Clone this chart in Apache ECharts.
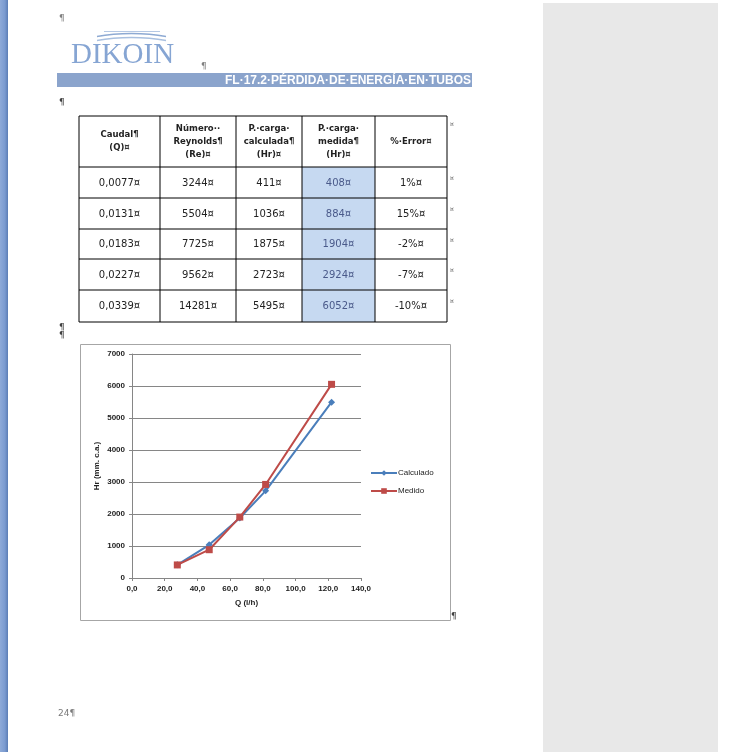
<!DOCTYPE html>
<html>
<head>
<meta charset="utf-8">
<script src="https://cdn.jsdelivr.net/npm/echarts@6/dist/echarts.min.js"></script>
<style>
  html, body { margin: 0; padding: 0; background: #ffffff; }
  #main { width: 735px; height: 752px; }
</style>
</head>
<body>
<div id="main"></div>
<script>
// Caudal en l/h (eje X) y pérdidas de carga en mm c.a.
var caudalLh = [27.7, 47.2, 65.9, 81.7, 122.0];
var hrCalculado = [411, 1036, 1875, 2723, 5495];
var hrMedido = [408, 884, 1904, 2924, 6052];

// Tabla de resultados
var tablaCaudal = ['0,0077', '0,0131', '0,0183', '0,0227', '0,0339'];
var tablaReynolds = ['3244', '5504', '7725', '9562', '14281'];
var tablaCalculada = ['411', '1036', '1875', '2723', '5495'];
var tablaMedida = ['408', '884', '1904', '2924', '6052'];
var tablaError = ['1%', '15%', '-2%', '-7%', '-10%'];
var tablaCabecera = [
  ['Caudal¶', '(Q)¤'],
  ['Número··', 'Reynolds¶', '(Re)¤'],
  ['P.·carga·', 'calculada¶', '(Hr)¤'],
  ['P.·carga·', 'medida¶', '(Hr)¤'],
  ['%·Error¤']
];

var chart = echarts.init(document.getElementById('main'), null, { renderer: 'canvas' });

// Page furniture: margin strip, side panel, header, pilcrows
var g = [];
g.push({ type: 'rect', shape: { x: 0, y: 0, width: 8, height: 752 },
  style: { fill: new echarts.graphic.LinearGradient(0, 0, 1, 0, [
    { offset: 0, color: '#8eaad8' }, { offset: 0.6, color: '#7b9bd0' }, { offset: 1, color: '#5b7db5' }]) } });
g.push({ type: 'rect', shape: { x: 543, y: 3, width: 175, height: 749 }, style: { fill: '#e8e8e8' } });

function pil(x, y, size, color) {
  g.push({ type: 'text', style: { text: '¶', x: x, y: y, font: (size || 9) + 'px "DejaVu Sans"', fill: color || '#808080', textVerticalAlign: 'middle' } });
}
pil(59, 19);
pil(201, 67);
pil(59, 103, 9, '#404040');
pil(59, 328, 9, '#404040');
pil(59, 336, 9, '#404040');
pil(451, 617, 9, '#404040');

// Logo
g.push({ type: 'line', shape: { x1: 104, y1: 31.5, x2: 160, y2: 31.5 }, style: { stroke: '#b5c8e4', lineWidth: 1 } });
[35, 39].forEach(function (yy, i) {
  g.push({ type: 'bezierCurve', shape: { x1: 97, y1: yy + 1.5, x2: 166, y2: yy + 1.5, cpx1: 118, cpy1: yy - 2.5, cpx2: 145, cpy2: yy - 2.5 },
    style: { stroke: i ? '#a9c0e0' : '#8eaad3', lineWidth: 1.3, fill: null } });
});
g.push({ type: 'text', style: { text: 'DIKOIN', x: 71, y: 55, font: '29px "Liberation Serif"', fill: '#86a5d3', textVerticalAlign: 'middle' } });

// Title banner
g.push({ type: 'rect', shape: { x: 57, y: 73, width: 415, height: 14 }, style: { fill: '#8ba4cc' } });
g.push({ type: 'text', style: { text: 'FL·17.2·PÉRDIDA·DE·ENERGÍA·EN·TUBOS', x: 471, y: 80.5, font: 'bold 12px "Liberation Sans"', fill: '#ffffff', textAlign: 'right', textVerticalAlign: 'middle' } });

// Table
var colX = [79, 160, 236, 302, 375, 447];
var rowY = [116, 167, 198, 229, 259, 290, 322];
for (var r = 0; r < 5; r++) {
  g.push({ type: 'rect', shape: { x: colX[3], y: rowY[r + 1], width: colX[4] - colX[3], height: rowY[r + 2] - rowY[r + 1] }, style: { fill: '#c6d9f1' } });
}
colX.forEach(function (x) {
  g.push({ type: 'line', shape: { x1: x, y1: rowY[0], x2: x, y2: rowY[6] }, style: { stroke: '#000', lineWidth: 1 } });
});
rowY.forEach(function (y) {
  g.push({ type: 'line', shape: { x1: colX[0], y1: y, x2: colX[5], y2: y }, style: { stroke: '#000', lineWidth: 1 } });
});
tablaCabecera.forEach(function (lines, c) {
  var cx = (colX[c] + colX[c + 1]) / 2;
  var h = 13;
  var y0 = (rowY[0] + rowY[1]) / 2 - (lines.length - 1) * h / 2;
  lines.forEach(function (t, i) {
    g.push({ type: 'text', style: { text: t, x: cx, y: y0 + i * h, font: 'bold 8.5px "DejaVu Sans"', fill: '#222', textAlign: 'center', textVerticalAlign: 'middle' } });
  });
});
var cols = [tablaCaudal, tablaReynolds, tablaCalculada, tablaMedida, tablaError];
cols.forEach(function (arr, c) {
  var cx = (colX[c] + colX[c + 1]) / 2;
  arr.forEach(function (t, r) {
    var cy = (rowY[r + 1] + rowY[r + 2]) / 2 + 0.5;
    g.push({ type: 'text', style: { text: t + '¤', x: cx, y: cy, font: '10px "DejaVu Sans"', fill: c === 3 ? '#4a5a8a' : '#222', textAlign: 'center', textVerticalAlign: 'middle' } });
  });
});
for (var k = 0; k < 6; k++) {
  g.push({ type: 'text', style: { text: '¤', x: 450, y: (k === 0 ? 121 : rowY[k] + 8), font: '6px "DejaVu Sans"', fill: '#555' } });
}

// Chart frame
g.push({ type: 'rect', shape: { x: 80.5, y: 344.5, width: 370, height: 276 }, style: { fill: 'none', stroke: '#a6a6a6', lineWidth: 1 }, z: -1 });
// Page number
g.push({ type: 'text', style: { text: '24¶', x: 58, y: 714, font: '9px "DejaVu Sans"', fill: '#7a7a7a', textVerticalAlign: 'middle' } });

chart.setOption({
  backgroundColor: '#ffffff',
  animation: false,
  graphic: { elements: g },
  grid: { left: 132, right: 374, top: 354, bottom: 174, containLabel: false },
  legend: {
    orient: 'vertical', left: 365, top: 464, itemGap: 10, itemWidth: 26, itemHeight: 7,
    textStyle: { fontFamily: 'Liberation Sans', fontSize: 8, color: '#222', padding: [0, 0, 0, -4] },
    data: ['Calculado', 'Medido']
  },
  xAxis: {
    type: 'value', min: 0, max: 140, interval: 20,
    name: 'Q (l/h)', nameLocation: 'middle', nameGap: 21,
    nameTextStyle: { fontFamily: 'Liberation Sans', fontSize: 8, fontWeight: 'bold', color: '#222' },
    axisLine: { show: true, lineStyle: { color: '#868686' } },
    axisTick: { show: true, length: 3, lineStyle: { color: '#868686' } },
    axisLabel: { fontFamily: 'Liberation Sans', fontSize: 8, fontWeight: 'bold', color: '#222', margin: 7,
      formatter: function (v) { return v.toFixed(1).replace('.', ','); } },
    splitLine: { show: false }
  },
  yAxis: {
    type: 'value', min: 0, max: 7000, interval: 1000,
    name: 'Hr (mm. c.a.)', nameLocation: 'middle', nameGap: 31, nameRotate: 90,
    nameTextStyle: { fontFamily: 'Liberation Sans', fontSize: 8, fontWeight: 'bold', color: '#222' },
    axisLine: { show: true, lineStyle: { color: '#868686' } },
    axisTick: { show: true, length: 3, lineStyle: { color: '#868686' } },
    axisLabel: { fontFamily: 'Liberation Sans', fontSize: 8, fontWeight: 'bold', color: '#222', margin: 7,
      formatter: function (v) { return String(v); } },
    splitLine: { show: true, lineStyle: { color: '#868686', width: 1 } }
  },
  series: [
    {
      name: 'Calculado', type: 'line', symbol: 'diamond', symbolSize: 7,
      itemStyle: { color: '#4a7ebb' }, lineStyle: { color: '#4a7ebb', width: 2 },
      data: caudalLh.map(function (q, i) { return [q, hrCalculado[i]]; })
    },
    {
      name: 'Medido', type: 'line', symbol: 'rect', symbolSize: 7,
      itemStyle: { color: '#be4b48' }, lineStyle: { color: '#be4b48', width: 2 },
      data: caudalLh.map(function (q, i) { return [q, hrMedido[i]]; })
    }
  ]
});
</script>
</body>
</html>
